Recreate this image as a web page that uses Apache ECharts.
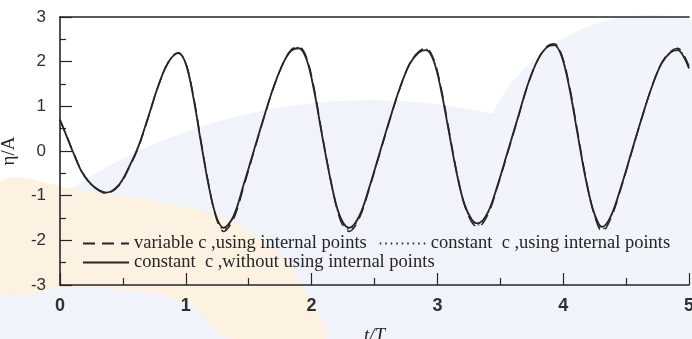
<!DOCTYPE html>
<html>
<head>
<meta charset="utf-8">
<script src="https://cdn.jsdelivr.net/npm/echarts@6/dist/echarts.min.js"></script>
<style>
  * { margin: 0; padding: 0; }
  #chart-container { width: 692px; height: 339px; overflow: hidden; }
</style>
</head>
<body>
<div id="chart-container"></div>
<script>
  // t/T sample times
  var tValues = [0, 0.05, 0.10, 0.18, 0.27, 0.37, 0.47, 0.55, 0.62, 0.70, 0.78, 0.86, 0.94,
    1.00, 1.06, 1.12, 1.18, 1.24, 1.30, 1.38, 1.46, 1.54, 1.62, 1.70, 1.78, 1.84, 1.90,
    1.96, 2.02, 2.08, 2.14, 2.20, 2.25, 2.30, 2.38, 2.46, 2.54, 2.62, 2.70, 2.78, 2.85, 2.91,
    2.97, 3.03, 3.09, 3.15, 3.21, 3.27, 3.32, 3.40, 3.48, 3.56, 3.64, 3.72, 3.80, 3.87, 3.93,
    3.99, 4.05, 4.11, 4.17, 4.23, 4.28, 4.31, 4.38, 4.46, 4.54, 4.62, 4.70, 4.78, 4.85, 4.91,
    4.96, 5.00]

  // eta/A, variable c, using internal points (dashed)
  var variableInternal = [0.70, 0.36, 0.01, -0.49, -0.80, -0.95, -0.77, -0.37, 0.06, 0.73, 1.44, 1.98, 2.20,
    1.97, 1.24, 0.24, -0.72, -1.48, -1.80, -1.52, -0.80, -0.03, 0.73, 1.44, 2.00, 2.27, 2.33,
    2.09, 1.40, 0.44, -0.48, -1.28, -1.68, -1.80, -1.50, -0.83, -0.08, 0.68, 1.39, 1.96, 2.22, 2.30,
    2.06, 1.40, 0.50, -0.42, -1.16, -1.58, -1.70, -1.43, -0.78, -0.03, 0.73, 1.49, 2.05, 2.34, 2.40,
    2.14, 1.45, 0.50, -0.46, -1.26, -1.70, -1.80, -1.50, -0.83, -0.07, 0.69, 1.40, 1.96, 2.22, 2.30,
    2.14, 1.90]

  // eta/A, constant c, using internal points (dotted)
  var constantInternal = [0.70, 0.35, 0.00, -0.50, -0.81, -0.94, -0.76, -0.36, 0.07, 0.74, 1.45, 1.99, 2.21,
    1.96, 1.22, 0.22, -0.74, -1.47, -1.76, -1.48, -0.77, -0.01, 0.74, 1.45, 2.01, 2.27, 2.32,
    2.07, 1.38, 0.42, -0.49, -1.27, -1.64, -1.76, -1.47, -0.81, -0.06, 0.69, 1.40, 1.96, 2.21, 2.28,
    2.04, 1.38, 0.48, -0.43, -1.15, -1.55, -1.66, -1.40, -0.76, -0.01, 0.74, 1.50, 2.05, 2.33, 2.39,
    2.12, 1.43, 0.48, -0.48, -1.26, -1.66, -1.75, -1.47, -0.81, -0.06, 0.70, 1.40, 1.96, 2.21, 2.28,
    2.12, 1.88]

  // eta/A, constant c, without internal points (solid)
  var constantNoInternal = [0.70, 0.35, 0.00, -0.50, -0.80, -0.93, -0.75, -0.35, 0.08, 0.75, 1.45, 1.98, 2.19,
    1.95, 1.20, 0.20, -0.75, -1.45, -1.72, -1.45, -0.75, 0.00, 0.75, 1.45, 2.00, 2.25, 2.30,
    2.05, 1.35, 0.40, -0.50, -1.25, -1.60, -1.72, -1.45, -0.80, -0.05, 0.70, 1.40, 1.95, 2.20, 2.26,
    2.02, 1.35, 0.45, -0.45, -1.15, -1.52, -1.62, -1.38, -0.75, 0.00, 0.75, 1.50, 2.05, 2.32, 2.37,
    2.10, 1.40, 0.45, -0.50, -1.25, -1.62, -1.70, -1.45, -0.80, -0.05, 0.70, 1.40, 1.95, 2.20, 2.26,
    2.10, 1.85]

  var seriesNames = [
    'variable c ,using internal points',
    'constant  c ,using internal points',
    'constant  c ,without using internal points'
  ]
  var xTicks = [0, 1, 2, 3, 4, 5]
  var yTicks = [-3, -2, -1, 0, 1, 2, 3]

  function pairs(ys) {
    return tValues.map(function (t, i) { return [t, ys[i]] })
  }

  var ink = '#262626'
  var chart = echarts.init(document.getElementById('chart-container'), null, { renderer: 'canvas' })

  var legendText = { fontFamily: 'Liberation Serif', fontSize: 18.5, color: ink }

  var option = {
    backgroundColor: '#ffffff',
    animation: false,
    // faint scanned watermark behind the plot
    graphic: [
      { type: 'circle', z: -10, silent: true, shape: { cx: 370, cy: 650, r: 550 }, style: { fill: '#f0f3fa' } },
      { type: 'circle', z: -10, silent: true, shape: { cx: 650, cy: 190, r: 175 }, style: { fill: '#f1f4fa' } },
      {
        type: 'polygon', z: -9, silent: true,
        shape: {
          smooth: 0.35,
          points: [[0, 183], [80, 190], [160, 202], [230, 220], [280, 255], [310, 300], [325, 339],
            [230, 339], [190, 305], [130, 290], [60, 288], [0, 292]]
        },
        style: { fill: '#fdf1e1' }
      }
    ],
    legend: [
      {
        data: [seriesNames[0], seriesNames[1]],
        left: 77, top: 229,
        orient: 'horizontal',
        itemWidth: 46, itemHeight: 8, itemGap: 12,
        itemStyle: { opacity: 0 },
        textStyle: legendText
      },
      {
        data: [seriesNames[2]],
        left: 77, top: 248,
        itemWidth: 46, itemHeight: 8,
        itemStyle: { opacity: 0 },
        textStyle: legendText
      }
    ],
    grid: { left: 60, right: 3, top: 17, bottom: 54, outerBoundsMode: 'none' },
    xAxis: [
      {
        type: 'value',
        min: xTicks[0], max: xTicks[xTicks.length - 1], interval: 1,
        name: 't/T',
        nameLocation: 'middle',
        nameGap: 41,
        nameTextStyle: { fontFamily: 'Liberation Serif', fontStyle: 'italic', fontSize: 19, color: ink },
        axisLine: { onZero: false, lineStyle: { color: ink, width: 1.6 } },
        axisTick: { inside: true, length: 12, lineStyle: { color: ink, width: 1.2 } },
        minorTick: { show: true, splitNumber: 2, length: 7, lineStyle: { color: ink, width: 1.2 } },
        axisLabel: { margin: 12, fontFamily: 'Liberation Sans', fontWeight: 'bold', fontSize: 18, color: '#303030' },
        splitLine: { show: false }
      },
      {
        type: 'value', position: 'top',
        min: xTicks[0], max: xTicks[xTicks.length - 1], interval: 1,
        axisLine: { onZero: false, lineStyle: { color: ink, width: 1.6 } },
        axisTick: { show: false },
        axisLabel: { show: false },
        splitLine: { show: false }
      }
    ],
    yAxis: {
      type: 'value',
      min: yTicks[0], max: yTicks[yTicks.length - 1], interval: 1,
      name: 'η/A',
      nameLocation: 'middle',
      nameGap: 41,
      nameTextStyle: { fontFamily: 'Liberation Serif', fontSize: 19, color: ink },
      axisLine: { show: true, onZero: false, lineStyle: { color: ink, width: 1.6 } },
      axisTick: { inside: true, length: 12, lineStyle: { color: ink, width: 1.2 } },
      minorTick: { show: true, splitNumber: 2, length: 6, lineStyle: { color: ink, width: 1.2 } },
      axisLabel: { margin: 14, fontFamily: 'Liberation Sans', fontSize: 17, color: '#303030' },
      splitLine: { show: false }
    },
    series: [
      {
        name: seriesNames[0], type: 'line', data: pairs(variableInternal),
        smooth: 0.35, symbol: 'none',
        lineStyle: { color: ink, width: 1.5, type: [12, 7] }, itemStyle: { color: ink }
      },
      {
        name: seriesNames[1], type: 'line', data: pairs(constantInternal),
        smooth: 0.35, symbol: 'none',
        lineStyle: { color: ink, width: 1.3, type: [1.5, 4] }, itemStyle: { color: ink }
      },
      {
        name: seriesNames[2], type: 'line', data: pairs(constantNoInternal),
        smooth: 0.35, symbol: 'none',
        lineStyle: { color: ink, width: 1.8 }, itemStyle: { color: ink }
      }
    ]
  }

  chart.setOption(option)
  window.addEventListener('resize', chart.resize)
</script>
</body>
</html>
